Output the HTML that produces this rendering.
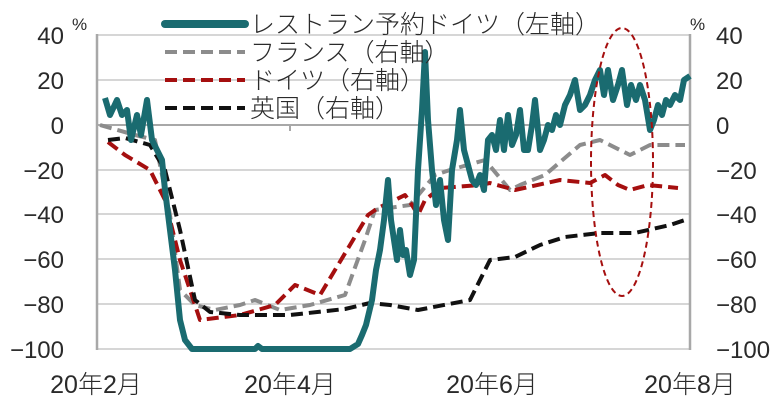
<!DOCTYPE html>
<html><head><meta charset="utf-8"><style>
html,body{margin:0;padding:0;background:#fff;}
svg{display:block;}
text{font-family:"Liberation Sans","Noto Sans CJK JP",sans-serif;fill:#2a2a2a;}
.j{font-family:"Noto Sans CJK JP","Liberation Sans",sans-serif;font-weight:300;}
</style></head><body>
<svg width="783" height="405" viewBox="0 0 783 405" xmlns="http://www.w3.org/2000/svg">
<g stroke="#d6d6d6" stroke-width="2">
<line x1="97" y1="35" x2="690" y2="35"/>
<line x1="97" y1="80" x2="690" y2="80"/>
<line x1="97" y1="170" x2="690" y2="170"/>
<line x1="97" y1="214" x2="690" y2="214"/>
<line x1="97" y1="259" x2="690" y2="259"/>
<line x1="97" y1="304" x2="690" y2="304"/>
<line x1="97" y1="349" x2="690" y2="349"/>
</g>
<line x1="97" y1="125" x2="690" y2="125" stroke="#a8a8a8" stroke-width="2"/>
<line x1="290" y1="125" x2="290" y2="131" stroke="#a8a8a8" stroke-width="2"/>
<line x1="97" y1="34" x2="97" y2="350" stroke="#a8a8a8" stroke-width="2.5"/>
<line x1="690" y1="34" x2="690" y2="350" stroke="#a8a8a8" stroke-width="2.5"/>
<g font-size="24" text-anchor="end">
<text x="64" y="44">40</text><text x="64" y="89">20</text><text x="64" y="134">0</text>
<text x="64" y="179">−20</text><text x="64" y="223">−40</text><text x="64" y="268">−60</text>
<text x="64" y="313">−80</text><text x="64" y="358">−100</text>
</g>
<g font-size="24">
<text x="716" y="44">40</text><text x="716" y="89">20</text><text x="716" y="134">0</text>
<text x="716" y="179">−20</text><text x="716" y="223">−40</text><text x="716" y="268">−60</text>
<text x="716" y="313">−80</text><text x="716" y="358">−100</text>
</g>
<text x="72" y="30" font-size="17">%</text>
<text x="690" y="30" font-size="17">%</text>
<g font-size="25" text-anchor="middle" class="j">
<text x="96" y="393">20年2月</text><text x="290" y="393">20年4月</text>
<text x="492" y="393">20年6月</text><text x="690" y="393">20年8月</text>
</g>
<g fill="none" stroke-linejoin="round">
<polyline stroke="#8c8c8c" stroke-width="4" stroke-dasharray="12,6" points="100,125 135,135 155,140 170,215 180,290 195,305 215,310 240,305 255,300 280,310 310,305 345,295 365,240 375,210 410,205 435,175 450,170 485,160 510,190 520,185 545,175 580,145 600,140 630,155 650,145 685,145"/>
<polyline stroke="#a50f0f" stroke-width="4" stroke-dasharray="12,6" points="108,142 125,155 150,170 165,200 180,260 200,320 240,315 275,305 295,285 320,295 350,245 368,215 378,208 395,200 405,195 412,205 418,215 425,200 440,188 480,185 490,183 515,190 560,180 590,183 605,175 618,185 630,190 648,185 678,188"/>
<polyline stroke="#111" stroke-width="4" stroke-dasharray="12,6" points="108,140 125,138 150,145 165,170 180,230 195,300 210,312 240,315 290,315 345,309 370,303 390,305 418,310 470,300 490,260 515,257 540,245 565,237 600,233 635,233 670,225 685,220"/>
<polyline stroke="#1a6b70" stroke-width="6" points="105,98 110,115 117,100 122,115 127,110 131,140 137,115 141,135 147,100 152,140 157,150 162,160 165,190 170,230 175,270 180,320 185,340 192,349 255,349 258,346 262,349 350,349 358,344 362,335 366,325 372,300 376,270 380,250 384,220 388,180 391,220 394,240 397,260 400,230 403,255 406,250 410,275 414,260 418,170 422,110 425,52 428,120 432,170 436,205 440,180 444,220 448,240 452,170 457,140 460,110 464,150 468,165 472,180 476,185 480,175 484,190 488,140 492,135 496,150 500,120 504,150 508,115 512,145 516,135 520,110 524,150 528,150 532,125 535,100 540,150 544,140 548,125 552,130 556,115 560,125 565,105 570,95 575,80 580,110 585,105 590,95 595,80 600,70 604,95 608,70 613,100 618,85 622,70 627,105 631,85 636,100 640,85 645,100 650,130 654,120 658,105 662,115 666,100 670,105 675,95 680,100 684,80 690,76"/>
<ellipse cx="622" cy="162" rx="31" ry="134" stroke="#a50f0f" stroke-width="2" stroke-dasharray="6,4"/>
</g>
<g font-size="25" class="j">
<line x1="165" y1="24" x2="245" y2="24" stroke="#1a6b70" stroke-width="8" stroke-linecap="round"/>
<text x="250" y="33">レストラン予約ドイツ（左軸）</text>
<line x1="165" y1="52" x2="245" y2="52" stroke="#8c8c8c" stroke-width="4" stroke-dasharray="12,6"/>
<text x="250" y="61">フランス（右軸）</text>
<line x1="165" y1="80" x2="245" y2="80" stroke="#a50f0f" stroke-width="4" stroke-dasharray="12,6"/>
<text x="250" y="89">ドイツ（右軸）</text>
<line x1="165" y1="108" x2="245" y2="108" stroke="#111" stroke-width="4" stroke-dasharray="12,6"/>
<text x="250" y="117">英国（右軸）</text>
</g>
</svg>
</body></html>
